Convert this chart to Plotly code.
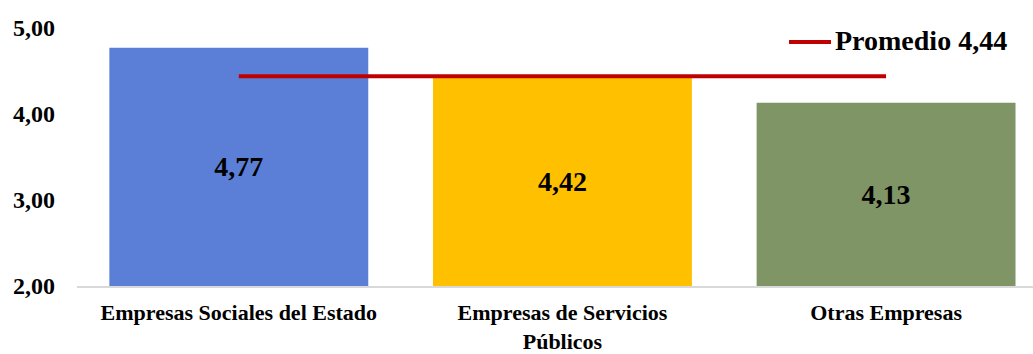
import plotly.graph_objects as go

# Puntaje promedio por tipo de empresa
categorias = ["Empresas Sociales del Estado", "Empresas de Servicios<br>Públicos", "Otras Empresas"]
puntajes = [4.77, 4.42, 4.13]
promedio = 4.44
colores = ["#5B7FD6", "#FFC000", "#7F9565"]
ticks_y = [2, 3, 4, 5]
etiquetas_y = ["2,00", "3,00", "4,00", "5,00"]

FUENTE = "Liberation Serif"
ROJO = "#C00000"


def coma(v):
    return f"{v:.2f}".replace(".", ",")


fig = go.Figure()

fig.add_trace(go.Bar(
    x=categorias,
    y=[p - 2 for p in puntajes],
    base=2,
    width=0.8,
    marker=dict(color=colores, line=dict(width=0)),
    text=[f"<b>{coma(p)}</b>" for p in puntajes],
    textposition="inside",
    insidetextanchor="middle",
    textangle=0,
    textfont=dict(family=FUENTE, size=28, color="black"),
    showlegend=False,
    hoverinfo="skip",
))

# Línea del promedio general, del primer al último grupo
fig.add_trace(go.Scatter(
    x=[categorias[0], categorias[-1]],
    y=[promedio, promedio],
    mode="lines",
    line=dict(color=ROJO, width=4),
    showlegend=False,
    hoverinfo="skip",
))

# Leyenda de la línea del promedio
fig.add_shape(
    type="line", xref="paper", yref="paper",
    x0=0.7448, x1=0.7887, y0=0.9457, y1=0.9457,
    line=dict(color=ROJO, width=4),
)
fig.add_annotation(
    xref="paper", yref="paper", x=0.7905, y=0.953,
    xanchor="left", yanchor="middle", showarrow=False,
    text=f"<b>Promedio {coma(promedio)}</b>",
    font=dict(family=FUENTE, size=28, color="black"),
)

fig.update_layout(
    width=1033,
    height=354,
    margin=dict(l=77, r=0, t=28, b=68),
    paper_bgcolor="white",
    plot_bgcolor="white",
    font=dict(family=FUENTE, color="black"),
    bargap=0.2,
)

fig.update_xaxes(
    range=[-0.5, 2.454],
    automargin=False,
    showline=True, linecolor="#D9D9D9", linewidth=2,
    showgrid=False, zeroline=False,
    ticks="", ticklabelstandoff=6,
    tickfont=dict(family=FUENTE, size=22, color="black"),
    tickprefix="<b>", ticksuffix="</b>",
)

fig.update_yaxes(
    range=[2, 5],
    automargin=False,
    tickvals=ticks_y,
    ticktext=[f"<b>{t}</b>" for t in etiquetas_y],
    showline=False, showgrid=False, zeroline=False,
    ticks="", ticklabelstandoff=21,
    tickfont=dict(family=FUENTE, size=24, color="black"),
)

fig.write_html("out.html")
